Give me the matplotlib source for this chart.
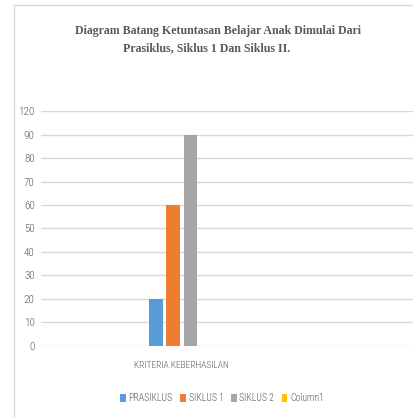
import matplotlib
matplotlib.use("Agg")
import matplotlib.pyplot as plt
from matplotlib.patches import Rectangle, Patch

category = "KRITERIA KEBERHASILAN"
series = ["PRASIKLUS", "SIKLUS 1", "SIKLUS 2", "Column1"]
values = [20, 60, 90, 0]
colors = ["#5B9BD5", "#ED7D31", "#A5A5A5", "#FFC000"]
yticks = [0, 10, 20, 30, 40, 50, 60, 70, 80, 90, 100]
ytick_labels = ["0", "10", "20", "30", "40", "50", "60", "70", "80", "90", "120"]
title_lines = ["Diagram Batang Ketuntasan Belajar Anak Dimulai Dari",
               "Prasiklus, Siklus 1 Dan Siklus II."]

NARROW = ["Roboto Condensed", "PT Sans Narrow", "Archivo Narrow", "DejaVu Sans"]
SERIF = ["Liberation Serif", "DejaVu Serif"]
GRAY = "#595959"

W, H = 413, 417
fig = plt.figure(figsize=(W / 100, H / 100), dpi=100)
fig.patch.set_facecolor("white")

# outer chart border (light gray)
fig.patches.append(Rectangle((14 / W, -0.1), 1.2, 1.1 - 5 / H,
                             transform=fig.transFigure, fill=False,
                             edgecolor="#d9d9d9", linewidth=1.0))

ax_left, ax_right = 41 / W, 1.0
ax_bottom = (H - 345.5) / H
ax_top = (H - 111.5) / H
ax = fig.add_axes([ax_left, ax_bottom, ax_right - ax_left, ax_top - ax_bottom])

step = 17.3
width = 13.7
n = len(series)
for i, (s, v, c) in enumerate(zip(series, values, colors)):
    ax.bar((i - (n - 1) / 2) * step, v, width=width, color=c, zorder=3)

ax.set_xlim(-(181.7 - 41), 413 - 181.7)
ax.set_ylim(0, 100)
ax.set_yticks(yticks)
ax.set_yticklabels(ytick_labels)
ax.set_xticks([])
ax.grid(axis="y", color="#d9d9d9", linewidth=1.0, zorder=0)
for sp in ax.spines.values():
    sp.set_visible(False)
ax.tick_params(axis="y", length=0, pad=4.5, labelsize=8, labelcolor=GRAY)
for lab in ax.get_yticklabels():
    lab.set_family(NARROW)
    lab.set_fontweight("light")

fig.text(181.5 / W, 1 - 365 / H, category, ha="center", va="center",
         fontsize=6.8, color=GRAY, family=NARROW, fontweight="light")

fig.text(218 / W, 1 - 31 / H, title_lines[0], ha="center", va="center",
         fontsize=8.6, fontweight="bold", color=GRAY, family=SERIF)
fig.text(206.5 / W, 1 - 48.5 / H, title_lines[1], ha="center", va="center",
         fontsize=8.6, fontweight="bold", color=GRAY, family=SERIF)

handles = [Patch(facecolor=c, edgecolor="none", label=s) for s, c in zip(series, colors)]
leg = fig.legend(handles=handles, loc="center", bbox_to_anchor=(222 / W, 1 - 398 / H),
                 ncol=4, frameon=False, handlelength=0.6, handleheight=0.9,
                 handletextpad=0.3, columnspacing=0.75,
                 prop={"family": NARROW, "size": 7, "weight": "light"})
for t in leg.get_texts():
    t.set_color(GRAY)

fig.savefig("out.png", dpi=100)
